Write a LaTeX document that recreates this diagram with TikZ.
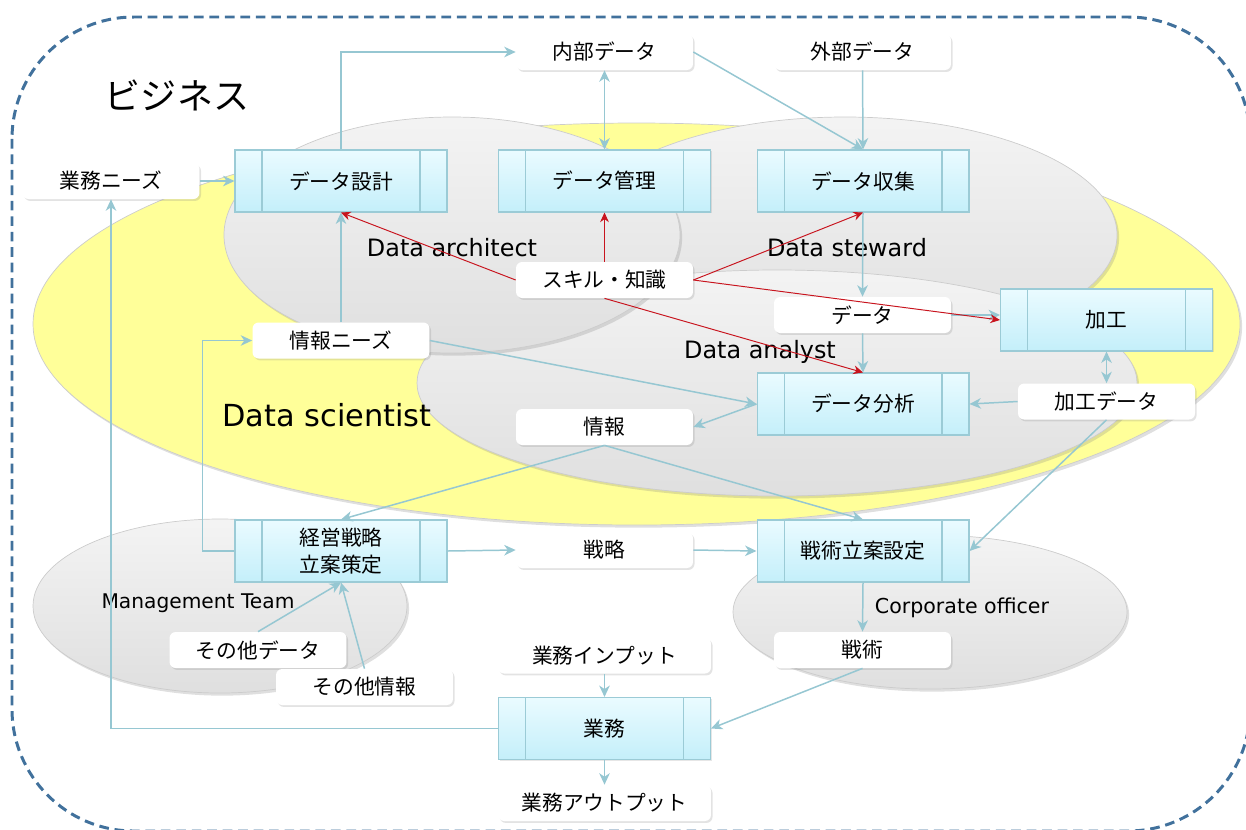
\documentclass[tikz,border=0pt]{standalone}
\usepackage{fontspec}
\setmainfont{DejaVu Sans}
\newfontfamily\jpfont{Noto Sans CJK JP}
\usetikzlibrary{arrows.meta, shadows, calc}
\definecolor{framedash}{RGB}{65, 113, 156}
\definecolor{sciyellow}{RGB}{255, 255, 153}
\definecolor{linkblue}{RGB}{150, 199, 210}
\definecolor{boxedge}{RGB}{155, 203, 214}
\definecolor{boxtop}{RGB}{234, 251, 255}
\definecolor{boxbottom}{RGB}{196, 239, 250}
\definecolor{skillred}{RGB}{200, 20, 30}

\tikzset{
  jp/.style={font=\jpfont\fontsize{11.8}{15}\selectfont},
  proc/.style={jp, draw=boxedge, line width=0.6pt, top color=boxtop, bottom color=boxbottom,
    minimum width=4.24cm, minimum height=1.24cm, inner sep=0pt, align=center,
    drop shadow={opacity=0.2, shadow xshift=0.8pt, shadow yshift=-0.8pt},
    path picture={
      \draw[boxedge, line width=0.6pt]
        ([xshift=0.54cm]path picture bounding box.north west) -- ([xshift=0.54cm]path picture bounding box.south west)
        ([xshift=-0.54cm]path picture bounding box.north east) -- ([xshift=-0.54cm]path picture bounding box.south east);
    }},
  item/.style={jp, fill=white, rounded corners=3.5pt, minimum width=3.54cm, minimum height=0.72cm,
    inner sep=0pt, drop shadow={opacity=0.22, shadow xshift=0.9pt, shadow yshift=-1.1pt}},
  wideitem/.style={item, minimum width=4.26cm},
  role/.style={draw=gray!40, line width=0.4pt, top color=gray!9, bottom color=gray!25,
    drop shadow={opacity=0.25, shadow xshift=1.2pt, shadow yshift=-1.5pt}},
  rolename/.style={font=\fontsize{13.6}{16}\selectfont},
  link/.style={draw=linkblue, line width=0.85pt, -{Stealth[length=6.5pt, width=6pt, inset=2pt]}},
  twolink/.style={link, {Stealth[length=6.5pt, width=6pt, inset=2pt]}-{Stealth[length=6.5pt, width=6pt, inset=2pt]}},
  skilllink/.style={draw=skillred, line width=0.55pt, -{Stealth[length=5.5pt, width=5pt]}},
}

\begin{document}
\begin{tikzpicture}[x=0.02cm, y=-0.02cm]
  \useasboundingbox (0,0) rectangle (1246,829);
  \clip (0,0) rectangle (1246,829);

  % Business frame
  \draw[framedash, line width=1.7pt, dash pattern=on 5.5pt off 3.3pt, rounded corners=2.44cm] (12,17) rectangle (1250,831);
  \node[font=\jpfont\fontsize{20.5}{24}\selectfont] (biz) at (177,95) {ビジネス};

  % Roles
  \draw[fill=sciyellow, draw=gray!40, line width=0.4pt, drop shadow={opacity=0.25, shadow xshift=1.2pt, shadow yshift=-1.5pt}]
    (636.5,324) ellipse [x radius=603.5, y radius=201];
  \draw[role] (845,235) ellipse [x radius=272, y radius=118];
  \draw[role] (777,383) ellipse [x radius=360, y radius=113];
  \draw[role] (452,235) ellipse [x radius=228, y radius=118];
  \draw[role] (220,606) ellipse [x radius=187, y radius=87];
  \draw[role] (930,612) ellipse [x radius=197, y radius=77];

  \node[rolename] (architectlbl) at (452,248) {Data architect};
  \node[rolename] (stewardlbl) at (847,248) {Data steward};
  \node[rolename] (analystlbl) at (760,352) {Data analyst};
  \node[font=\fontsize{17.3}{20}\selectfont] (scientistlbl) at (327,415) {Data scientist};
  \node[font=\fontsize{11.5}{14}\selectfont] (mgmtlbl) at (198,603) {Management Team};
  \node[font=\fontsize{11.7}{14}\selectfont] (officerlbl) at (962,608) {Corporate officer};

  % Processes
  \node[proc] (design) at (341,181) {データ設計};
  \node[proc] (manage) at (604.5,181) {データ管理};
  \node[proc] (collect) at (863,181) {データ収集};
  \node[proc] (refine) at (1106.5,320) {加工};
  \node[proc] (analysis) at (863,404) {データ分析};
  \node[proc] (stratplan) at (341,551) {経営戦略\\立案策定};
  \node[proc] (tactplan) at (863,551) {戦術立案設定};
  \node[proc] (work) at (604.5,728.5) {業務};

  % Data and information
  \node[item] (internal) at (604.5,52) {内部データ};
  \node[item] (external) at (862.5,52) {外部データ};
  \node[item] (needs) at (111,181) {業務ニーズ};
  \node[item] (skill) at (604.5,280) {スキル・知識};
  \node[item] (data) at (862.5,315) {データ};
  \node[item] (infoneeds) at (341,340.5) {情報ニーズ};
  \node[item] (info) at (604.5,427) {情報};
  \node[item] (refined) at (1106.5,401.5) {加工データ};
  \node[item] (strategy) at (604.5,550) {戦略};
  \node[item] (tactics) at (862.5,650) {戦術};
  \node[item] (otherdata) at (258,650) {その他データ};
  \node[item] (otherinfo) at (364.5,687) {その他情報};
  \node[wideitem] (input) at (604.5,655.5) {業務インプット};
  \node[wideitem] (output) at (604.5,803) {業務アウトプット};

  % Flows
  \draw[link] (design.north) |- (internal.west);
  \draw[twolink] (internal.south) -- (manage.north);
  \draw[link] (internal.east) -- (collect.north);
  \draw[link] (external.south) -- (collect.north);
  \draw[link] (needs.east) -- (design.west);
  \draw[link] (work.west) -| (needs.south);
  \draw[link] (infoneeds.north) -- (design.south);
  \draw[link] (stratplan.west) -- ++(-32,0) |- (infoneeds.west);
  \draw[link] (infoneeds.east) -- (analysis.west);
  \draw[link] (analysis.west) -- (info.east);
  \draw[link] (info.south) -- (stratplan.north);
  \draw[link] (info.south) -- (tactplan.north);
  \draw[link] (stratplan.east) -- (strategy.west);
  \draw[link] (strategy.east) -- (tactplan.west);
  \draw[link] (tactplan.south) -- (tactics.north);
  \draw[link] (tactics.south) -- (work.east);
  \draw[link] (input.south) -- (work.north);
  \draw[link] (work.south) -- (output.north);
  \draw[link] (otherdata.north) -- (stratplan.south);
  \draw[link] (otherinfo.north) -- (stratplan.south);
  \draw[link] (collect.south) -- (data.north);
  \draw[link] (data.south) -- (analysis.north);
  \draw[link] (data.east) -- (data.east -| refine.west);
  \draw[twolink] (refine.south) -- (refined.north);
  \draw[link] (refined.west) -- (analysis.east);
  \draw[link] (refined.south) -- (tactplan.east);

  % Skills
  \draw[skilllink] (skill.west) -- (design.south);
  \draw[skilllink] (skill.north) -- (manage.south);
  \draw[skilllink] (skill.east) -- (collect.south);
  \draw[skilllink] (skill.east) -- (refine.west);
  \draw[skilllink] (skill.south) -- (analysis.north);
\end{tikzpicture}
\end{document}
